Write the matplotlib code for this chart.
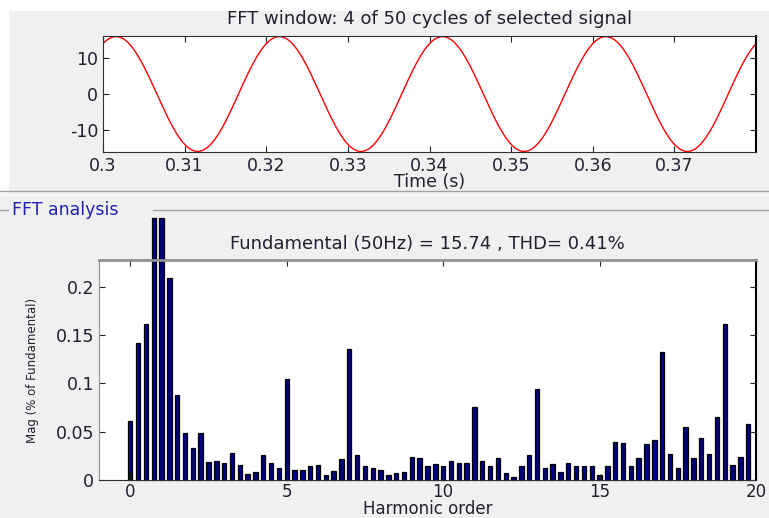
import matplotlib
matplotlib.use("Agg")
import matplotlib.pyplot as plt
from matplotlib.lines import Line2D
from matplotlib.patches import Rectangle
import numpy as np

# top panel: fundamental (peak value, frequency, first peak time)
signal_amp = 15.74
signal_freq = 50.0
signal_peak_t = 0.3016
t_start, t_stop = 0.3, 0.38

# bottom panel: harmonic spectrum, 0 .. 19.75 in steps of 0.25
harmonic_order = [i * 0.25 for i in range(80)]
mag = [
    0.061, 0.142, 0.161, 0.271, 0.271, 0.209, 0.088, 0.049,
    0.033, 0.049, 0.019, 0.020, 0.018, 0.028, 0.016, 0.006,
    0.008, 0.026, 0.018, 0.012, 0.105, 0.010, 0.010, 0.014,
    0.016, 0.005, 0.009, 0.022, 0.136, 0.026, 0.015, 0.012,
    0.010, 0.005, 0.007, 0.008, 0.024, 0.023, 0.014, 0.017,
    0.014, 0.020, 0.018, 0.018, 0.076, 0.020, 0.015, 0.023,
    0.007, 0.003, 0.014, 0.026, 0.094, 0.012, 0.017, 0.008,
    0.018, 0.014, 0.014, 0.014, 0.005, 0.014, 0.039, 0.038,
    0.014, 0.023, 0.037, 0.041, 0.132, 0.027, 0.012, 0.055,
    0.023, 0.043, 0.027, 0.065, 0.161, 0.016, 0.024, 0.058,
]

time_ticks = [0.3, 0.31, 0.32, 0.33, 0.34, 0.35, 0.36, 0.37]
time_labels = ["0.3", "0.31", "0.32", "0.33", "0.34", "0.35", "0.36", "0.37"]
mag_ticks = [0, 0.05, 0.1, 0.15, 0.2]
mag_labels = ["0", "0.05", "0.1", "0.15", "0.2"]

title_top = "FFT window: 4 of 50 cycles of selected signal"
title_bottom = "Fundamental (50Hz) = 15.74 , THD= 0.41%"

W, H = 769, 518
BG = "#f0f0f0"
TXT = "#202030"
FS = 13
plt.rcParams["font.family"] = ["DejaVu Sans"]
plt.rcParams["axes.unicode_minus"] = False

fig = plt.figure(figsize=(W / 100, H / 100), dpi=100, facecolor=BG)


def fx(px):
    return px / W


def fy(py):
    return 1 - py / H


# white strip on top / left like the screenshot
fig.add_artist(Rectangle((0, fy(10)), 1, 10 / H, transform=fig.transFigure,
                         color="white", zorder=0))
fig.add_artist(Rectangle((0, fy(193)), fx(8), (193 - 10) / H,
                         transform=fig.transFigure, color="white", zorder=0))

# separators between the two panels
fig.add_artist(Line2D([0, 1], [fy(191), fy(191)], transform=fig.transFigure,
                      color="#a0a0a0", lw=1))
fig.add_artist(Line2D([0, 1], [fy(195), fy(195)], transform=fig.transFigure,
                      color="white", lw=1))
fig.add_artist(Line2D([fx(153), 1], [fy(210), fy(210)], transform=fig.transFigure,
                      color="#a0a0a0", lw=1))
fig.add_artist(Line2D([0, fx(8)], [fy(210), fy(210)], transform=fig.transFigure,
                      color="#a0a0a0", lw=1))
fig.text(fx(12), fy(210), "FFT analysis", color="#2020b0", fontsize=12.5,
         va="center", ha="left")


def style_axes(ax):
    ax.set_facecolor("white")
    ax.tick_params(direction="in", top=True, right=True, length=4,
                   colors=TXT, labelsize=12.5)
    for s in ["left", "bottom", "top"]:
        ax.spines[s].set_color("#303030")
    ax.spines["right"].set_color("black")
    ax.spines["right"].set_linewidth(1.5)


# top: time signal
ax1 = fig.add_axes([fx(103), fy(152), fx(756 - 103), (152 - 36) / H])
t = np.linspace(t_start, t_stop, 801)
ax1.plot(t, signal_amp * np.cos(2 * np.pi * signal_freq * (t - signal_peak_t)),
         color="red", lw=1)
ax1.set_xlim(t_start, t_stop)
ax1.set_ylim(-15.9, 15.9)
ax1.set_xticks(time_ticks)
ax1.set_xticklabels(time_labels)
ax1.set_yticks([-10, 0, 10])
style_axes(ax1)
ax1.set_title(title_top, color=TXT, fontsize=FS, pad=9)
ax1.set_xlabel("Time (s)", color=TXT, fontsize=12.5, labelpad=-1)

# bottom: harmonic spectrum
ax2 = fig.add_axes([fx(99), fy(480), fx(756 - 99), (480 - 260) / H])
bars = ax2.bar(harmonic_order, mag, width=0.14, color="#000080",
               edgecolor="black", linewidth=0.9)
for b in bars:
    b.set_clip_on(False)
ax2.set_xlim(-1, 20)
ax2.set_ylim(0, 0.2276)
ax2.set_xticks([0, 5, 10, 15, 20])
ax2.set_yticks(mag_ticks)
ax2.set_yticklabels(mag_labels)
style_axes(ax2)
ax2.tick_params(axis="x", labelsize=12, pad=2)
ax2.spines["top"].set_color("#909090")
ax2.spines["top"].set_linewidth(2)
ax2.spines["left"].set_color("#909090")
ax2.set_title(title_bottom, color=TXT, fontsize=FS, pad=8)
ax2.set_xlabel("Harmonic order", color=TXT, fontsize=12)
ax2.xaxis.set_label_coords(0.5, -(509 - 480) / (480 - 260), transform=ax2.transAxes)
ax2.xaxis.label.set_va("center")
ax2.set_ylabel("Mag (% of Fundamental)", color=TXT, fontsize=8.5, labelpad=12)

fig.savefig("out.png", dpi=100, facecolor=fig.get_facecolor())
